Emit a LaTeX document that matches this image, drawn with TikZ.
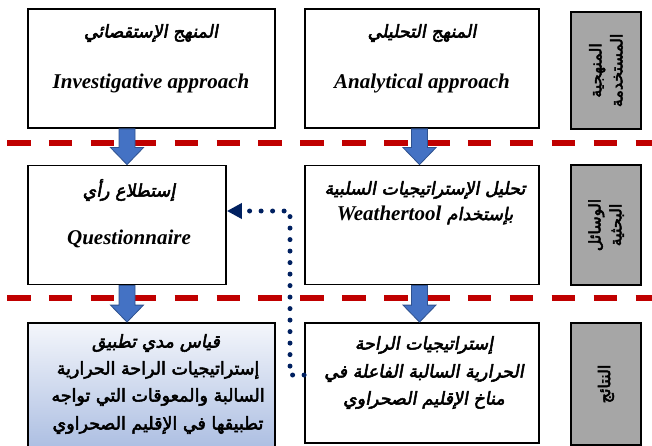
\documentclass[tikz,border=0pt]{standalone}
\usepackage{fontspec}
\setmainfont{Liberation Serif}
\newfontfamily\arbit[Script=Arabic,FakeBold=3,FakeSlant=0.18]{DejaVu Sans}
\newfontfamily\arbup[Script=Arabic,FakeBold=3]{DejaVu Sans}
\TeXXeTstate=1
\usetikzlibrary{arrows.meta,calc}
\definecolor{arfill}{HTML}{4472C4}
\definecolor{arline}{HTML}{2F528F}
\definecolor{redc}{HTML}{C00000}
\definecolor{navyc}{HTML}{002060}
\definecolor{grayc}{HTML}{A6A6A6}
\definecolor{gradtop}{HTML}{F4F6FB}
\definecolor{gradbot}{HTML}{A4B8DF}
\newcommand\rtxt[1]{\beginR#1\endR}
\newcommand\blockar[2]{%
  \path[draw=arline,fill=arfill,line width=0.8pt] let \p1=(#1), \p2=(#2) in
    (\x2-8pt,\y1) -- (\x2+8pt,\y1) -- (\x2+8pt,\y2+17pt) -- (\x2+16.5pt,\y2+17pt)
    -- (\x2,\y2) -- (\x2-16.5pt,\y2+17pt) -- (\x2-8pt,\y2+17pt) -- cycle;}
\tikzset{
  box/.style={draw=black,line width=1.8pt,fill=white,inner sep=0pt},
  gbox/.style={box,fill=grayc},
  redline/.style={draw=redc,line width=5.5pt,dash pattern=on 23.5pt off 18.4pt},
  dotconn/.style={draw=navyc,line width=5pt,line cap=round,dash pattern=on 0pt off 11.5pt,
    -{Triangle[length=15pt,width=15pt]}},
  artxt/.style={font=\arbit\fontsize{17.5}{20}\selectfont,align=center,inner sep=0pt},
  arup/.style={font=\arbup\fontsize{17.5}{20}\selectfont,align=center,inner sep=0pt},
  entxt/.style={font=\bfseries\itshape\fontsize{21}{24}\selectfont,inner sep=0pt},
  gtxt/.style={font=\arbup\fontsize{16}{21}\selectfont,align=center,rotate=90,inner sep=0pt},
}
\begin{document}
\begin{tikzpicture}[x=1pt,y=-1pt]
\useasboundingbox (0,0) rectangle (652,446);
\clip (0,0) rectangle (652,446);
% separators
\draw[redline] (7,143) -- (652,143);
\draw[redline] (7,298) -- (652,298);
% boxes
\node[box,minimum width=247,minimum height=119] (tl) at (151.5,68.5) {};
\node[box,minimum width=234,minimum height=119] (tm) at (422,68.5) {};
\node[gbox,minimum width=70,minimum height=117] (g1) at (606,70.5) {};
\node[box,minimum width=198,minimum height=119] (ml) at (127,225) {};
\node[box,minimum width=234,minimum height=119] (mm) at (422,225) {};
\node[gbox,minimum width=70,minimum height=120] (g2) at (606,225) {};
\node[box,top color=gradtop,bottom color=gradbot,minimum width=247,minimum height=140] (bl) at (151.5,393) {};
\node[box,minimum width=234,minimum height=120] (bm) at (422,383) {};
\node[gbox,minimum width=70,minimum height=122] (g3) at (606,384) {};
% texts
\node[artxt] at (151,33) {\rtxt{المنهج الإستقصائي}};
\node[entxt] at (151,83) {Investigative approach};
\node[artxt] at (422,33) {\rtxt{المنهج التحليلي}};
\node[entxt] at (422,83) {Analytical approach};
\node[artxt] at (129,190) {\rtxt{إستطلاع رأي}};
\node[entxt] at (129,239) {Questionnaire};
\node[artxt] at (425,190) {\rtxt{تحليل الإستراتيجيات السلبية}};
\node[artxt] at (425,215) {\rtxt{بإستخدام \beginL{\rmfamily\bfseries\itshape\fontsize{21}{24}\selectfont Weathertool}\endL}};
\node[artxt] at (424,345) {\rtxt{إستراتيجيات الراحة}};
\node[artxt] at (424,373) {\rtxt{الحرارية السالبة الفاعلة في}};
\node[artxt] at (424,400) {\rtxt{مناخ الإقليم الصحراوي}};
\node[artxt] at (156,343) {\rtxt{قياس مدي تطبيق}};
\node[arup] at (158,370) {\rtxt{إستراتيجيات الراحة الحرارية}};
\node[arup] at (158,397) {\rtxt{السالبة والمعوقات التي تواجه}};
\node[arup] at (158,425) {\rtxt{تطبيقها في الإقليم الصحراوي}};
\node[gtxt] at (g1) {\rtxt{المنهجية}\\\rtxt{المستخدمة}};
\node[gtxt] at (g2) {\rtxt{الوسائل}\\\rtxt{البحثية}};
\node[gtxt] at (g3) {\rtxt{النتائج}};
% block arrows
\blockar{tl.south -| ml.north}{ml.north}
\blockar{tm.south -| 419.5,0}{mm.north -| 419.5,0}
\blockar{ml.south}{bl.north -| ml.south}
\blockar{mm.south -| 419.5,0}{bm.north -| 419.5,0}
% dotted connector
\coordinate (turn) at (290,211);
\draw[dotconn] ([yshift=8pt]bm.west) -| (turn) -- (ml.east |- turn);
\end{tikzpicture}
\end{document}
